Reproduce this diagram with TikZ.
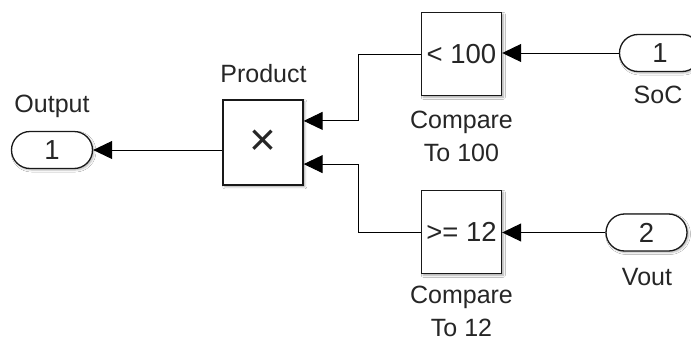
\documentclass[tikz,border=0pt]{standalone}
\usepackage{fontspec}
\setmainfont{Liberation Sans}
\usetikzlibrary{arrows.meta,calc,shadows.blur}

\tikzset{
  txt/.style={font=\fontsize{25}{32.5}\selectfont, text=black!85, inner sep=0pt, align=center},
  bigtxt/.style={font=\fontsize{27.5}{30}\selectfont, text=black!85, inner sep=0pt, align=center},
  blockbox/.style={draw=black!90, line width=1.4pt, fill=white, inner sep=0pt,
    minimum width=80pt, minimum height=83pt, bigtxt,
    blur shadow={shadow xshift=1.8pt, shadow yshift=-1.8pt, shadow blur radius=2pt, shadow opacity=35}},
  portbox/.style={draw=black!90, line width=1.3pt, fill=white, inner sep=0pt,
    minimum width=81pt, minimum height=37pt, rounded corners=18.5pt, bigtxt,
    blur shadow={shadow xshift=1.5pt, shadow yshift=-1.5pt, shadow blur radius=2pt, shadow opacity=30}},
  wire/.style={line width=1pt, draw=black, -{Triangle[length=19pt,width=18pt]}},
  lbl/.style={txt, anchor=base},
}

\begin{document}
\begin{tikzpicture}[x=1pt, y=-1pt]
\clip (0,0) rectangle (691,343);
\fill[white] (0,0) rectangle (691,343);

% ports
\node[portbox] (outp) at (52,150) {1};
\node[portbox] (soc)  at (660,53) {1};
\node[portbox] (vout) at (646.5,232.5) {2};

% blocks
\node[blockbox, minimum height=85pt] (prod) at (263,142.5) {\fontsize{46}{46}\selectfont ×};
\node[blockbox] (cmphi) at (461.5,54) {< 100};
\node[blockbox] (cmplo) at (461.5,232) {>= 12};

% labels (a two-line label sits on the baseline of its last line)
\node[lbl] (outlbl)  at (52,112)   {Output};
\node[lbl] (prodlbl) at (263.5,82) {Product};
\node[lbl] (hilbl)   at (461.5,161) {Compare\\To 100};
\node[lbl] (lolbl)   at (461.5,336) {Compare\\To 12};
\node[lbl] (soclbl)  at (658,103)  {SoC};
\node[lbl] (voutlbl) at (647,285)  {Vout};

% product input points and routing bends
\coordinate (pin1) at ($(prod.north east)!0.25!(prod.south east)$);
\coordinate (pin2) at ($(prod.north east)!0.75!(prod.south east)$);
\coordinate (bendx) at (358,0);

% connectors
\draw[wire] (soc.west) -- (soc.west -| cmphi.east);
\draw[wire] (vout.west) -- (vout.west -| cmplo.east);
\draw[wire] (cmphi.west) -- (cmphi.west -| bendx) -- (bendx |- pin1) -- (pin1);
\draw[wire] (cmplo.west) -- (cmplo.west -| bendx) -- (bendx |- pin2) -- (pin2);
\draw[wire] (prod.west |- outp) -- (outp.east);
\end{tikzpicture}
\end{document}
